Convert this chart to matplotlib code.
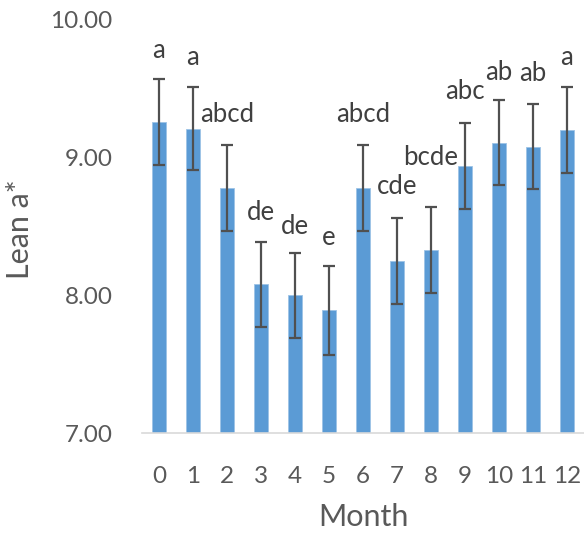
import matplotlib
matplotlib.use("Agg")
import matplotlib.pyplot as plt
import numpy as np

# values
months = ["0", "1", "2", "3", "4", "5", "6", "7", "8", "9", "10", "11", "12"]
lean_a = [9.26, 9.21, 8.78, 8.08, 8.00, 7.89, 8.78, 8.25, 8.33, 8.94, 9.11, 9.08, 9.20]
err = [0.31, 0.30, 0.31, 0.31, 0.31, 0.32, 0.31, 0.31, 0.31, 0.31, 0.31, 0.31, 0.31]
letters = ["a", "a", "abcd", "de", "de", "e", "abcd", "cde", "bcde", "abc", "ab", "ab", "a"]
# where each letter label sits (data units, manually placed in the source)
letter_y = [9.78, 9.73, 9.31, 8.60, 8.50, 8.42, 9.31, 8.79, 9.00, 9.48, 9.62, 9.61, 9.73]

FONT = "Lato"
GREY = "#595959"

fig = plt.figure(figsize=(5.84, 5.33), dpi=100)
ax = fig.add_axes([0.243, 0.1876, 0.757, 0.7749])

x = np.arange(len(months))
ax.bar(x, [v - 7 for v in lean_a], bottom=7, width=0.41, color="#5B9BD5",
       edgecolor="#9DC3E6", linewidth=0.6, zorder=2)
ax.errorbar(x, lean_a, yerr=err, fmt="none", ecolor="#505050",
            elinewidth=1.6, capsize=4.5, capthick=1.6, zorder=3)

for xi, lab, ly in zip(x, letters, letter_y):
    ax.text(xi, ly, lab, ha="center", va="center", fontsize=18.5,
            family=FONT, color="#404040")

ax.set_xlim(-0.5, len(months) - 0.5)
ax.set_ylim(7, 10)
ax.set_yticks([7, 8, 9, 10])
ax.set_yticklabels(["7.00", "8.00", "9.00", "10.00"])
ax.set_xticks(x)
ax.set_xticklabels(months)
ax.tick_params(axis="both", length=0, labelsize=17.5, labelcolor=GREY)
ax.tick_params(axis="y", pad=21)
ax.tick_params(axis="x", pad=24)
for lab in ax.get_xticklabels() + ax.get_yticklabels():
    lab.set_family(FONT)

for side in ["left", "right", "top"]:
    ax.spines[side].set_visible(False)
ax.spines["bottom"].set_color("#D9D9D9")
ax.spines["bottom"].set_linewidth(1.2)

fig.text(0.622, 0.03, "Month", ha="center", va="center", fontsize=22,
         family=FONT, color=GREY)
fig.text(0.035, 0.57, "Lean a*", ha="center", va="center", rotation=90,
         fontsize=22, family=FONT, color=GREY)

fig.savefig("out.png", dpi=100)
